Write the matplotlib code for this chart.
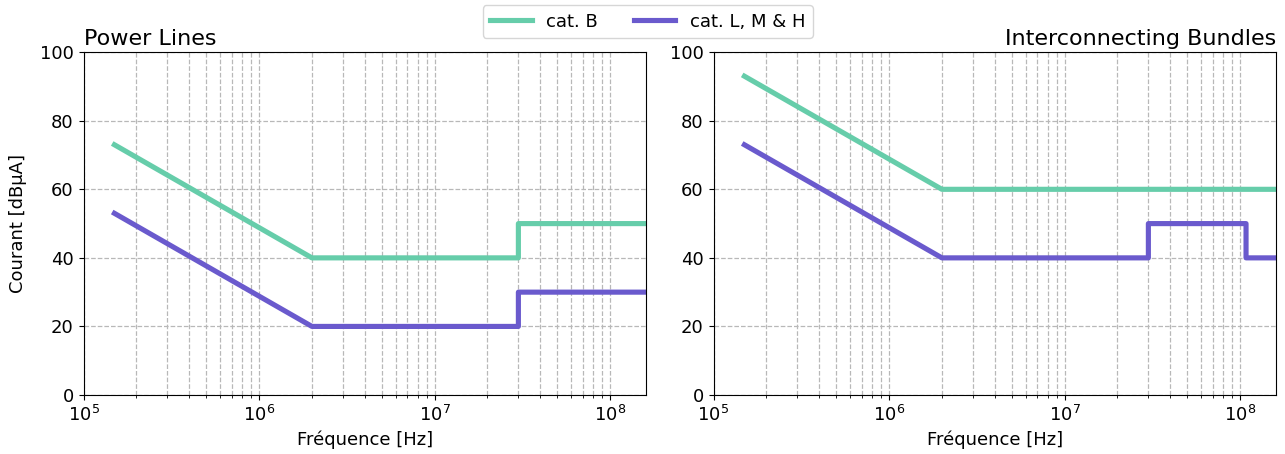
import matplotlib.pyplot as plt

# Limits (dBuA) vs frequency (Hz)
freq_power = [1.5e5, 2e6, 3e7, 3e7, 1.6e8]
power_cat_b = [73, 40, 40, 50, 50]
power_cat_lmh = [53, 20, 20, 30, 30]

freq_bundle_b = [1.5e5, 2e6, 1.6e8]
bundle_cat_b = [93, 60, 60]
freq_bundle_lmh = [1.5e5, 2e6, 3e7, 3e7, 1.08e8, 1.08e8, 1.6e8]
bundle_cat_lmh = [73, 40, 40, 50, 50, 40, 40]

green = 'mediumaquamarine'
purple = 'slateblue'

fig, (ax1, ax2) = plt.subplots(1, 2, figsize=(12.85, 4.54), dpi=100)

ax1.plot(freq_power, power_cat_b, color=green, lw=3.7, label='cat. B')
ax1.plot(freq_power, power_cat_lmh, color=purple, lw=3.7, label='cat. L, M & H')
ax1.set_title('Power Lines', loc='left', fontsize=16, pad=5)
ax1.set_ylabel('Courant [dBµA]', fontsize=13, labelpad=9)

ax2.plot(freq_bundle_b, bundle_cat_b, color=green, lw=3.7)
ax2.plot(freq_bundle_lmh, bundle_cat_lmh, color=purple, lw=3.7)
ax2.set_title('Interconnecting Bundles', loc='right', fontsize=16, pad=5)

for ax in (ax1, ax2):
    ax.set_xscale('log')
    ax.set_xlim(1e5, 1.6e8)
    ax.set_ylim(0, 100)
    ax.set_xlabel('Fréquence [Hz]', fontsize=13)
    ax.tick_params(labelsize=13)
    ax.grid(True, which='both', linestyle='--', color='#b8b8b8', lw=0.9)
    ax.set_axisbelow(True)

fig.legend(loc='upper center', ncol=2, fontsize=13, handlelength=2.3,
           bbox_to_anchor=(0.504, 1.008))
plt.subplots_adjust(left=0.065, right=0.993, top=0.885, bottom=0.13, wspace=0.12)
plt.savefig('out.png')
